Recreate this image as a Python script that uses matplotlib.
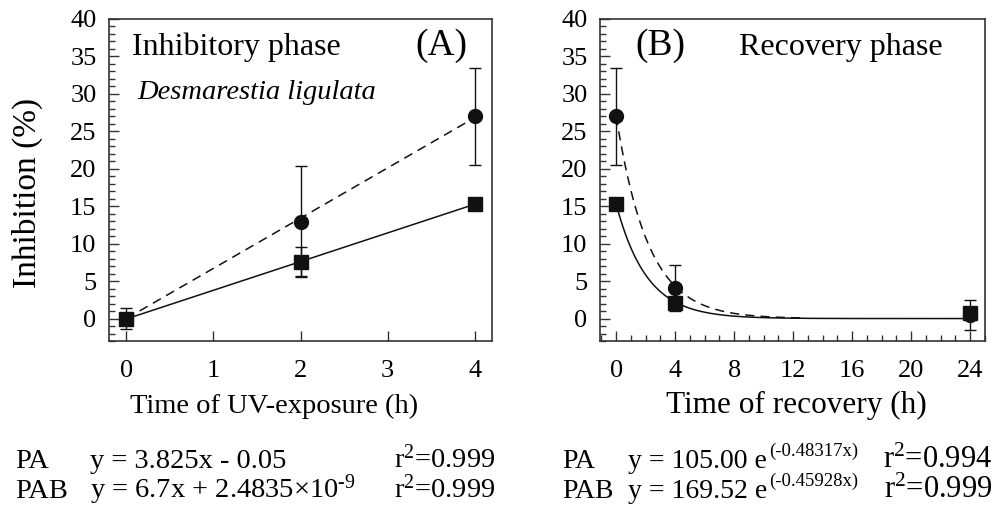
import numpy as np
import matplotlib.pyplot as plt
from matplotlib.ticker import MultipleLocator

plt.rcParams['font.family'] = ['Liberation Serif', 'DejaVu Serif']
plt.rcParams['mathtext.fontset'] = 'custom'
plt.rcParams['mathtext.rm'] = 'Liberation Serif'
plt.rcParams['mathtext.it'] = 'Liberation Serif'
plt.rcParams['mathtext.default'] = 'regular'

# inhibitory phase (A)
uv_time = [0, 2, 4]
pa_uv = [0.0, 7.6, 15.25]
pa_uv_err = [0.4, 1.9, 0.3]
pab_uv = [0.0, 12.9, 27.0]
pab_uv_err = [1.45, 7.4, 6.5]

# linear fits
pa_slope, pa_icpt = 3.825, -0.05
pab_slope, pab_icpt = 6.7, 2.4835e-9

# recovery phase (B)
rec_time = [0, 4, 24]
pa_rec = [15.25, 2.1, 0.8]
pa_rec_err = [0.3, 0.4, 0.3]
pab_rec = [27.0, 4.1, 0.5]
pab_rec_err = [6.5, 3.1, 2.0]

# exponential decay rates of the fits
pa_k = 0.48317
pab_k = 0.45928

fig = plt.figure(figsize=(10, 5.09), dpi=100)
axA = fig.add_axes([0.109, 0.330, 0.383, 0.633])
axB = fig.add_axes([0.600, 0.330, 0.385, 0.633])

mk = dict(color='#111111', markersize=10, capsize=4, elinewidth=1, capthick=1,
          linestyle='none', zorder=3)

# panel A
xs = np.linspace(0, 4, 50)
axA.plot(xs, pa_slope * xs + pa_icpt, color='#111111', lw=1.1)
axA.plot(xs, pab_slope * xs + pab_icpt, color='#111111', lw=1.1, dashes=(6, 4))
axA.errorbar(uv_time, pab_uv, yerr=pab_uv_err, marker='o', **mk)
axA.errorbar(uv_time, pa_uv, yerr=pa_uv_err, marker='s', **mk)
axA.set_xlim(-0.2, 4.2)
axA.xaxis.set_major_locator(MultipleLocator(1))
axA.set_xlabel('Time of UV-exposure (h)', fontsize=20.5)
axA.xaxis.set_label_coords(0.43, -0.224)
axA.xaxis.label.set_va('baseline')
axA.set_ylabel('Inhibition (%)', fontsize=24)
axA.yaxis.set_label_coords(-0.172, 0.46)
axA.text(0.06, 0.888, 'Inhibitory phase', transform=axA.transAxes,
         fontsize=23, va='baseline', ha='left')
axA.text(0.937, 0.888, '(A)', transform=axA.transAxes,
         fontsize=27, va='baseline', ha='right')
axA.text(0.073, 0.77, 'Desmarestia ligulata', transform=axA.transAxes,
         fontsize=20.5, style='italic', va='center', ha='left')

# panel B
xr = np.linspace(0, 24, 300)
axB.plot(xr, pa_rec[0] * np.exp(-pa_k * xr), color='#111111', lw=1.1)
xd = np.linspace(0, 12.7, 200)
axB.plot(xd, pab_rec[0] * np.exp(-pab_k * xd), color='#111111', lw=1.1,
         dashes=(6, 4))
axB.errorbar(rec_time, pab_rec, yerr=pab_rec_err, marker='o', **mk)
axB.errorbar(rec_time, pa_rec, yerr=pa_rec_err, marker='s', **mk)
axB.set_xlim(-1.1, 25)
axB.xaxis.set_major_locator(MultipleLocator(4))
axB.xaxis.set_minor_locator(MultipleLocator(1))
axB.set_xlabel('Time of recovery (h)', fontsize=22.5)
axB.xaxis.set_label_coords(0.51, -0.224)
axB.xaxis.label.set_va('baseline')
axB.text(0.091, 0.888, '(B)', transform=axB.transAxes,
         fontsize=27, va='baseline', ha='left')
axB.text(0.891, 0.888, 'Recovery phase', transform=axB.transAxes,
         fontsize=23, va='baseline', ha='right')

for ax in (axA, axB):
    ax.set_ylim(-3, 40)
    ax.yaxis.set_major_locator(MultipleLocator(5))
    ax.yaxis.set_minor_locator(MultipleLocator(1))
    ax.tick_params(axis='both', which='major', direction='in', length=7,
                   width=1, labelsize=19, color='#333333')
    ax.tick_params(axis='both', which='minor', direction='in', length=4,
                   width=1, color='#333333')
    ax.tick_params(axis='x', pad=14)
    ax.tick_params(axis='y', pad=9)
    for s in ax.spines.values():
        s.set_linewidth(1.2)
        s.set_color('#333333')

# fit equations below the panels
row1 = 1 - 468 / 509
row2 = 1 - 498 / 509
eqL = dict(fontsize=20.5, va='baseline', ha='left')
eqR = dict(fontsize=20, va='baseline', ha='left')
fig.text(0.015, row1, 'PA', **eqL)
fig.text(0.090, row1, 'y = 3.825x - 0.05', **eqL)
fig.text(0.495, row1, r'r$^2$=0.999', **dict(eqL, ha='right'))
fig.text(0.015, row2, 'PAB', **eqL)
fig.text(0.090, row2, r'y = 6.7x + 2.4835$\times$10$^{\text{-}9}$', **eqL)
fig.text(0.495, row2, r'r$^2$=0.999', **dict(eqL, ha='right'))

renderer = fig.canvas.get_renderer()
for row, amp, k, r2 in [(row1, '105.00', pa_k, '0.994'),
                        (row2, '169.52', pab_k, '0.999')]:
    fig.text(0.562, row, 'PA' if row == row1 else 'PAB', **eqR)
    base = fig.text(0.628, row, f'y = {amp} e', **eqR)
    x_end = base.get_window_extent(renderer).x1 / fig.bbox.width
    fig.text(x_end + 0.002, row + 12 / 509, f'(-{k:.5f}x)', fontsize=13.5,
             va='baseline', ha='left')
    fig.text(0.992, row, f'r$^2$={r2}', **dict(eqR, fontsize=22, ha='right'))

fig.savefig('out.png', dpi=100)
